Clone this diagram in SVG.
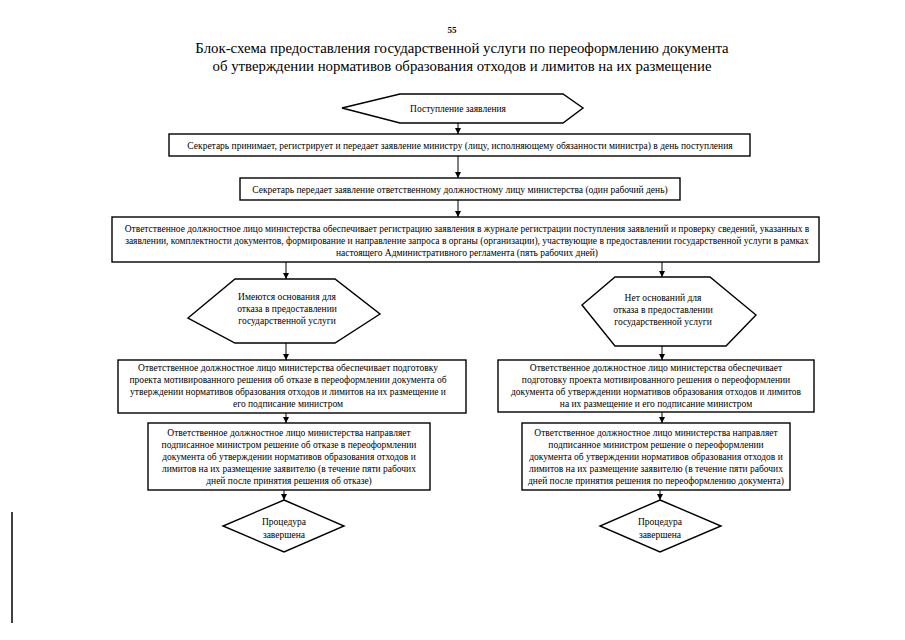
<svg xmlns="http://www.w3.org/2000/svg" width="905" height="640" viewBox="0 0 905 640">
<defs>
<marker id="ah" markerWidth="8" markerHeight="8" refX="6" refY="3" orient="auto" markerUnits="userSpaceOnUse">
<path d="M0,0 L6,3 L0,6 z" fill="#000"/>
</marker>
<style>
.n{fill:#fff;stroke:#000;stroke-width:1.4}
.t{font-family:"Liberation Serif","Times New Roman",serif;font-size:9.5px;fill:#000;text-anchor:middle}
.c{stroke:#000;stroke-width:1;fill:none;marker-end:url(#ah)}
.h{font-family:"Liberation Serif","Times New Roman",serif;fill:#000;text-anchor:middle}
</style>
</defs>
<rect width="905" height="640" fill="#fff"/>
<text class="h" x="452" y="33" font-size="9" font-weight="bold">55</text>
<text class="h" x="462" y="53" font-size="14.8">Блок-схема предоставления государственной услуги по переоформлению документа</text>
<text class="h" x="462" y="71" font-size="14.8">об утверждении нормативов образования отходов и лимитов на их размещение</text>

<g id="connectors">
<line class="c" x1="458" y1="123" x2="458" y2="134"/>
<line class="c" x1="458" y1="156" x2="458" y2="178"/>
<line class="c" x1="458" y1="200" x2="458" y2="217"/>
<line class="c" x1="286" y1="262" x2="286" y2="279"/>
<line class="c" x1="662" y1="262" x2="662" y2="277"/>
<line class="c" x1="286" y1="343" x2="286" y2="360"/>
<line class="c" x1="662" y1="346" x2="662" y2="360"/>
<line class="c" x1="286" y1="413" x2="286" y2="423"/>
<line class="c" x1="662" y1="412" x2="662" y2="423"/>
<line class="c" x1="284" y1="490" x2="284" y2="500"/>
<line class="c" x1="660" y1="490" x2="660" y2="500"/>
</g>

<g id="start">
<polygon class="n" points="342,108 400,94 563,94 583,108 563,123 400,123"/>
<text class="t" x="458" y="111.5" font-size="10.5">Поступление заявления</text>
</g>

<g id="box1">
<rect class="n" x="169" y="134" width="581" height="22"/>
<text class="t" x="460" y="148.5">Секретарь принимает, регистрирует и передает заявление министру (лицу, исполняющему обязанности министра) в день поступления</text>
</g>

<g id="box2">
<rect class="n" x="240" y="178" width="440" height="22"/>
<text class="t" x="460" y="192.5">Секретарь передает заявление ответственному должностному лицу министерства  (один рабочий день)</text>
</g>

<g id="box3">
<rect class="n" x="112" y="217" width="707" height="45"/>
<text class="t" x="467" y="232">Ответственное должностное лицо министерства обеспечивает регистрацию заявления в журнале регистрации поступления заявлений и проверку сведений, указанных в</text>
<text class="t" x="467" y="244">заявлении, комплектности документов, формирование и направление запроса в органы (организации), участвующие в предоставлении государственной услуги в рамках</text>
<text class="t" x="467" y="256">настоящего Административного регламента (пять рабочих дней)</text>
</g>

<g id="cond-yes">
<polygon class="n" points="188,318 235,279 335,279 380,314 335,343 235,343"/>
<text class="t" x="287" y="300">Имеются основания для</text>
<text class="t" x="287" y="312">отказа в предоставлении</text>
<text class="t" x="287" y="324">государственной услуги</text>
</g>

<g id="cond-no">
<polygon class="n" points="582,305 615,277 710,277 756,315 726,346 615,346"/>
<text class="t" x="663" y="301">Нет оснований для</text>
<text class="t" x="663" y="313">отказа в предоставлении</text>
<text class="t" x="663" y="325">государственной услуги</text>
</g>

<g id="box4">
<rect class="n" x="118" y="360" width="348" height="53"/>
<text class="t" x="288" y="371">Ответственное должностное лицо министерства обеспечивает подготовку</text>
<text class="t" x="288" y="383">проекта мотивированного решения об отказе в переоформлении документа об</text>
<text class="t" x="288" y="395">утверждении нормативов образования отходов и лимитов на их размещение и</text>
<text class="t" x="288" y="407">его подписание министром</text>
</g>

<g id="box5">
<rect class="n" x="148" y="423" width="282" height="67"/>
<text class="t" x="289" y="436">Ответственное должностное лицо министерства направляет</text>
<text class="t" x="289" y="448">подписанное министром решение об отказе в переоформлении</text>
<text class="t" x="289" y="460">документа об утверждении нормативов образования отходов и</text>
<text class="t" x="289" y="472">лимитов на их размещение заявителю (в течение пяти рабочих</text>
<text class="t" x="289" y="484">дней после принятия решения об отказе)</text>
</g>

<g id="end-left">
<polygon class="n" points="284,500 344,526 284,552 223,526"/>
<text class="t" x="284" y="525">Процедура</text>
<text class="t" x="284" y="538">завершена</text>
</g>

<g id="box6">
<rect class="n" x="498" y="360" width="316" height="52"/>
<text class="t" x="656" y="371">Ответственное должностное лицо министерства обеспечивает</text>
<text class="t" x="656" y="383">подготовку проекта мотивированного решения о переоформлении</text>
<text class="t" x="656" y="395">документа об утверждении нормативов образования отходов и лимитов</text>
<text class="t" x="656" y="407">на их размещение и его подписание министром</text>
</g>

<g id="box7">
<rect class="n" x="522" y="423" width="268" height="67"/>
<text class="t" x="656" y="436">Ответственное должностное лицо министерства направляет</text>
<text class="t" x="656" y="448">подписанное министром решение о переоформлении</text>
<text class="t" x="656" y="460">документа об утверждении нормативов образования отходов и</text>
<text class="t" x="656" y="472">лимитов на их размещение заявителю (в течение пяти рабочих</text>
<text class="t" x="656" y="484">дней после принятия решения по переоформлению документа)</text>
</g>

<g id="end-right">
<polygon class="n" points="660,500 721,526 660,552 600,526"/>
<text class="t" x="660" y="525">Процедура</text>
<text class="t" x="660" y="538">завершена</text>
</g>

<line x1="12" y1="512" x2="12" y2="623" stroke="#000" stroke-width="1.5"/>
</svg>
